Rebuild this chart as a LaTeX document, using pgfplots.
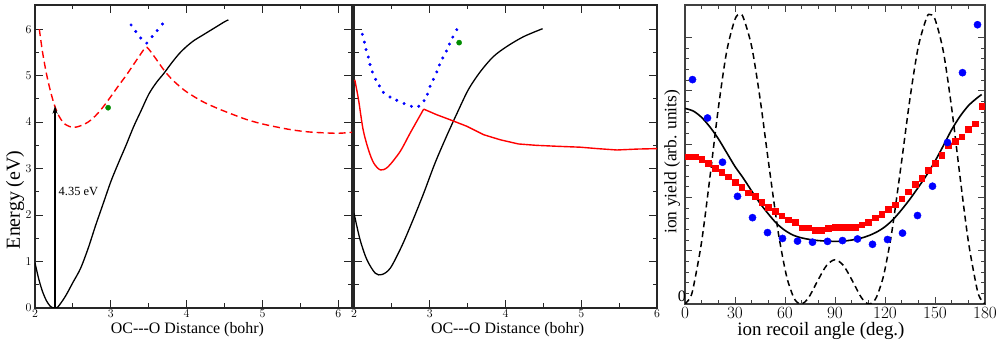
\documentclass[border=0pt]{standalone}
\usepackage{pgfplots}
\pgfplotsset{compat=1.18}
\usepackage{fontspec}
\setmainfont{Liberation Serif}
\usetikzlibrary{arrows.meta}
\begin{document}
\begin{tikzpicture}
\useasboundingbox (0bp,0bp) rectangle (997bp,341bp);
\pgfplotsset{
  myax/.style={
    scale only axis,
    axis line style={line width=1.2bp, black!85},
    every tick/.style={line width=1.0bp, black!85},
    major tick length=8bp, minor tick length=4.5bp,
    tick align=inside, xtick pos=both, ytick pos=both,
    clip=true,
  },
  smallticks/.style={tick label style={font=\fontsize{12}{12}\selectfont}},
}
% ---------------- left panel
\begin{axis}[myax, smallticks, at={(35bp,33bp)}, anchor=south west,
  width=317bp, height=303bp,
  xmin=2, xmax=6.18, ymin=0, ymax=6.52,
  xtick={2,3,4,5,6}, minor x tick num=1,
  ytick={0,1,2,3,4,5,6}, minor y tick num=1,
  xticklabel style={yshift=2bp},
  xlabel={OC-{}-{}-O Distance (bohr)},
  xlabel style={at={(axis description cs:0.481,-0.072)}, anchor=center, font=\fontsize{16}{16}\selectfont},
  ylabel={Energy (eV)},
  ylabel style={at={(axis description cs:-0.063,0.357)}, anchor=center, rotate=0, font=\fontsize{20}{20}\selectfont},
]
\addplot[black, line width=1.3bp, smooth] coordinates {
(2.0,0.97) (2.05,0.62) (2.10,0.35) (2.15,0.16) (2.20,0.04) (2.25,0.0) (2.30,0.02) (2.40,0.25) (2.50,0.55) (2.60,0.85) (2.70,1.28) (2.80,1.78) (2.90,2.25) (3.0,2.72) (3.1,3.12) (3.2,3.5) (3.3,3.9) (3.4,4.25) (3.5,4.6) (3.6,4.85) (3.7,5.05) (3.8,5.27) (3.9,5.47) (4.0,5.63) (4.1,5.76) (4.2,5.86) (4.3,5.96) (4.4,6.06) (4.5,6.16) (4.55,6.2)};
\addplot[red, line width=1.4bp, dash pattern=on 7bp off 4bp, smooth] coordinates {
(2.057,6.0) (2.1,5.5) (2.15,5.05) (2.2,4.69) (2.25,4.40) (2.3,4.18) (2.35,4.04) (2.4,3.95) (2.5,3.885) (2.6,3.92) (2.7,4.0) (2.8,4.14) (2.9,4.33) (3.0,4.55) (3.1,4.78) (3.2,5.0) (3.3,5.24) (3.4,5.48) (3.46,5.61) (3.5,5.57) (3.6,5.35) (3.7,5.12) (3.8,4.93) (3.9,4.78) (4.0,4.65) (4.2,4.45) (4.4,4.3) (4.6,4.17) (4.8,4.05) (5.0,3.96) (5.2,3.89) (5.4,3.83) (5.6,3.79) (5.8,3.77) (6.0,3.76) (6.18,3.78)};
\addplot[only marks, mark=*, mark size=1.3bp, blue, mark options={draw=blue, fill=blue}] coordinates {
(3.267,6.09) (3.329,5.95) (3.395,5.81) (3.474,5.70) (3.545,5.84) (3.611,5.97) (3.681,6.11)};
\addplot[only marks, mark=*, mark size=2.6bp, mark options={draw=green!55!black, fill=green!55!black}] coordinates {(2.964,4.31)};
\addplot[black, line width=1.2bp, -{Stealth[length=8bp,width=5bp]}] coordinates {(2.264,0) (2.264,4.35)};
\node[anchor=west, inner sep=0pt, font=\fontsize{12.5}{12.5}\selectfont] at (axis cs:2.31,2.51) {4.35 eV};
\end{axis}
% ---------------- middle panel
\begin{axis}[myax, smallticks, at={(354bp,33bp)}, anchor=south west,
  width=303bp, height=303bp,
  xmin=2, xmax=6, ymin=0, ymax=6.52,
  xtick={2,3,4,5,6}, minor x tick num=1,
  ytick={0,1,2,3,4,5,6}, minor y tick num=1, yticklabels={},
  xticklabel style={yshift=2bp},
  xlabel={OC-{}-{}-O Distance (bohr)},
  xlabel style={at={(axis description cs:0.507,-0.072)}, anchor=center, font=\fontsize{16}{16}\selectfont},
]
\addplot[black, line width=1.3bp, smooth] coordinates {
(2.0,2.04) (2.08,1.47) (2.17,1.04) (2.28,0.75) (2.37,0.72) (2.48,0.86) (2.63,1.33) (2.78,1.9) (2.92,2.47) (3.07,3.12) (3.22,3.69) (3.36,4.19) (3.51,4.7) (3.67,5.09) (3.84,5.41) (4.02,5.63) (4.24,5.84) (4.49,6.01)};
\addplot[red, line width=1.4bp, smooth] coordinates {
(2.01,4.91) (2.06,4.48) (2.12,3.84) (2.19,3.41) (2.26,3.12) (2.35,2.97) (2.45,3.04) (2.61,3.37) (2.74,3.76) (2.92,4.28)};
\addplot[red, line width=1.4bp] coordinates {
(2.92,4.28) (3.09,4.16) (3.27,4.05) (3.49,3.91) (3.71,3.73) (3.93,3.62) (4.17,3.53) (4.41,3.5) (4.68,3.48) (4.99,3.46) (5.21,3.43) (5.47,3.40) (5.74,3.42) (6.0,3.43)};
\addplot[only marks, mark=*, mark size=1.3bp, blue, mark options={draw=blue, fill=blue}] coordinates {
(2.110,5.89) (2.137,5.72) (2.159,5.56) (2.189,5.40) (2.211,5.24) (2.242,5.08) (2.286,4.92) (2.335,4.78) (2.388,4.64) (2.476,4.54) (2.564,4.47) (2.661,4.40) (2.758,4.34) (2.855,4.34) (2.925,4.46) (2.969,4.60) (3.004,4.77) (3.048,4.92) (3.093,5.08) (3.128,5.23) (3.172,5.38) (3.220,5.53) (3.260,5.68) (3.304,5.83) (3.357,5.99)};
\addplot[only marks, mark=*, mark size=2.6bp, mark options={draw=green!55!black, fill=green!55!black}] coordinates {(3.388,5.71)};
\end{axis}
% ---------------- right panel
\begin{axis}[myax, at={(685bp,37bp)}, anchor=south west,
  width=300bp, height=299bp,
  xmin=0, xmax=180, ymin=0, ymax=5.61,
  xtick={0,30,60,90,120,150,180}, minor x tick num=2,
  ytick={0,1,2,3,4,5}, yticklabels={0,,,,,}, minor y tick num=4,
  major tick length=7bp, minor tick length=4bp,
  axis line style={line width=1.1bp, black!75},
  every tick/.style={line width=0.9bp, black!75},
  tick label style={font=\fontsize{16}{16}\selectfont},
  xticklabel style={yshift=0bp},
  yticklabel style={xshift=2bp, yshift=8bp, inner sep=1pt},
  xlabel={ion recoil angle (deg.)},
  xlabel style={at={(axis description cs:0.453,-0.09)}, anchor=center, font=\fontsize{19}{19}\selectfont},
  ylabel={ion yield (arb. units)},
  ylabel style={at={(axis description cs:-0.043,0.476)}, anchor=center, font=\fontsize{17.5}{17.5}\selectfont},
]
\addplot[black, line width=1.5bp, dash pattern=on 6bp off 4bp, smooth] coordinates {
(0,0) (3,0.114) (5,0.313) (10,1.175) (15,2.390) (20,3.674) (25,4.737) (30,5.344) (33,5.431) (35,5.372) (40,4.831) (45,3.860) (50,2.683) (55,1.544) (57,1.148) (60,0.654) (62,0.399) (65,0.136) (67,0.040) (69.4,0) (72,0.039) (75,0.162) (80,0.460) (85,0.725) (90,0.83) (95,0.725) (100,0.460) (105,0.162) (108,0.039) (110.6,0) (113,0.040) (115,0.136) (118,0.399) (120,0.654) (123,1.148) (125,1.544) (130,2.683) (135,3.860) (140,4.831) (145,5.372) (147,5.431) (150,5.344) (155,4.737) (160,3.674) (165,2.390) (170,1.175) (175,0.313) (177,0.114) (180,0)};
\addplot[black, line width=1.6bp, smooth] coordinates {
(0,3.67) (5,3.62) (10,3.50) (15,3.32) (20,3.10) (25,2.84) (30,2.58) (35,2.36) (40,2.12) (45,1.89) (50,1.69) (55,1.51) (60,1.38) (65,1.29) (70,1.24) (75,1.21) (80,1.19) (85,1.18) (90,1.175) (95,1.18) (100,1.20) (105,1.23) (110,1.28) (115,1.35) (120,1.45) (125,1.59) (130,1.77) (135,1.97) (140,2.19) (145,2.42) (150,2.68) (155,2.97) (160,3.27) (165,3.52) (170,3.72) (175,3.86) (178,3.93)};
\addplot[only marks, mark=square*, mark size=2.8bp, mark options={draw=red, fill=red}] coordinates {
(2,2.76) (6,2.76) (10,2.72) (14,2.64) (18,2.55) (22,2.47) (26,2.39) (30,2.29) (34,2.19) (38,2.09) (42,2.02) (46,1.91) (50,1.82) (54,1.74) (58,1.66) (62,1.58) (66,1.53) (70,1.43) (74,1.43) (78,1.38) (82,1.38) (86,1.42) (90,1.44) (94,1.44) (98,1.44) (102,1.44) (106,1.49) (110,1.54) (114,1.62) (118,1.68) (122,1.78) (126,1.86) (130,1.975) (134,2.11) (138,2.25) (142,2.36) (146,2.51) (150,2.64) (154,2.79) (158,2.97) (162,3.06) (166,3.14) (170,3.28) (174,3.38) (178,3.71)};
\addplot[only marks, mark=*, mark size=3.6bp, mark options={draw=blue, fill=blue}] coordinates {
(4.5,4.21) (13.5,3.49) (22.5,2.66) (31.5,2.02) (40.5,1.62) (49.5,1.34) (58.5,1.23) (67.5,1.18) (76.5,1.16) (85.5,1.175) (94.5,1.19) (103.5,1.22) (112.5,1.12) (121.5,1.21) (130.5,1.33) (139.5,1.66) (148.5,2.21) (157.5,3.03) (166.5,4.34) (175.5,5.24)};
\end{axis}
\end{tikzpicture}
\end{document}
